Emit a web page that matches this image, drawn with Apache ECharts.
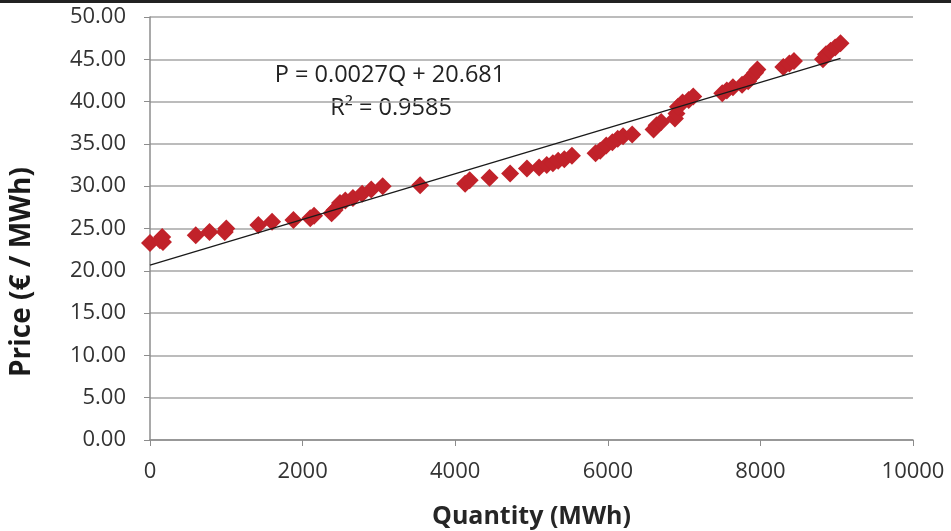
<!DOCTYPE html>
<html>
<head>
<meta charset="utf-8">
<script src="https://cdn.jsdelivr.net/npm/echarts@6/dist/echarts.min.js"></script>
<style>html,body{margin:0;padding:0;background:#fff;}#c{width:951px;height:531px;}</style>
</head>
<body>
<div id="c"></div>
<script>
const quantity = [0,130,160,170,600,780,980,1000,1420,1600,1880,2100,2150,2380,2420,2490,2560,2660,2780,2900,3050,3540,4130,4190,4450,4720,4940,5100,5200,5280,5350,5430,5530,5840,5900,5980,6060,6130,6200,6320,6600,6640,6700,6880,6900,6920,6980,7060,7120,7500,7560,7640,7760,7840,7880,7930,7960,8300,8380,8440,8820,8860,8920,8980,9050];
const price = [23.3,23.6,24.0,23.4,24.2,24.6,24.6,25.0,25.4,25.8,26.0,26.2,26.5,26.8,27.2,28.0,28.3,28.6,29.1,29.6,30.0,30.1,30.3,30.7,31.0,31.5,32.1,32.2,32.5,32.7,33.0,33.2,33.6,33.9,34.2,34.8,35.2,35.6,35.9,36.1,36.7,37.2,37.6,38.0,38.6,39.4,39.9,40.2,40.6,41.0,41.3,41.7,42.0,42.4,42.9,43.4,43.8,44.1,44.5,44.8,45.0,45.6,46.0,46.4,46.9];
const trendSlope = 0.0027;
const trendIntercept = 20.681;
const trendRange = [0, 9050];
const equationText = "P = 0.0027Q + 20.681";
const r2Text = "R² = 0.9585";
const xTitle = "Quantity (MWh)";
const yTitle = "Price (€ / MWh)";

const points = quantity.map((q, i) => [q, price[i]]);
const trend = trendRange.map(q => [q, trendSlope * q + trendIntercept]);
const font = "'Open Sans',sans-serif";

const chart = echarts.init(document.getElementById('c'), null, {renderer: 'canvas'});
chart.setOption({
  animation: false,
  backgroundColor: '#ffffff',
  grid: {left: 150, right: 38, top: 17, bottom: 91, containLabel: false, outerBoundsMode: 'none'},
  xAxis: {
    type: 'value', min: 0, max: 10000, interval: 2000,
    name: xTitle, nameLocation: 'middle', nameGap: 64,
    nameTextStyle: {fontFamily: font, fontWeight: 'bold', fontSize: 25, color: '#262626'},
    axisLine: {show: true, lineStyle: {color: '#8c8c8c', width: 1.5}},
    axisTick: {show: true, inside: false, length: 6, lineStyle: {color: '#8c8c8c'}},
    axisLabel: {fontFamily: font, fontSize: 22, color: '#333', margin: 21, formatter: v => String(v)},
    splitLine: {show: false}
  },
  yAxis: {
    type: 'value', min: 0, max: 50, interval: 5,
    axisLine: {show: true, lineStyle: {color: '#8c8c8c', width: 1.5}},
    axisTick: {show: true, length: 6, lineStyle: {color: '#8c8c8c'}},
    axisLabel: {fontFamily: font, fontSize: 22, color: '#333', margin: 24, formatter: v => v.toFixed(2)},
    splitLine: {show: true, lineStyle: {color: '#a6a6a6', width: 1.5}}
  },
  series: [
    {
      type: 'line', data: trend, showSymbol: false, symbol: 'none',
      lineStyle: {color: '#1a1a1a', width: 1.3}, z: 3
    },
    {
      type: 'scatter', data: points, symbol: 'diamond', symbolSize: [18, 18],
      itemStyle: {color: '#c1222a', opacity: 1}, z: 2
    }
  ],
  graphic: [
    {type: 'rect', left: 0, top: 0, shape: {width: 951, height: 3}, style: {fill: '#222'}},
    {type: 'text', x: 22, y: 272, rotation: Math.PI / 2,
      style: {text: yTitle, font: "bold 28px " + font, fill: '#1a1a1a', align: 'center', verticalAlign: 'middle'}},
    {type: 'text', x: 390, y: 75, style: {text: equationText, font: "23.5px " + font, fill: '#222', align: 'center', verticalAlign: 'middle'}},
    {type: 'text', x: 391, y: 108, style: {text: r2Text, font: "23.5px " + font, fill: '#222', align: 'center', verticalAlign: 'middle'}}
  ]
});
</script>
</body>
</html>
